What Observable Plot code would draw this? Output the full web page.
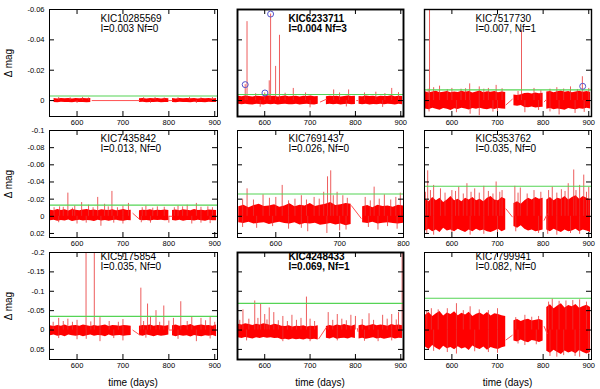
<!DOCTYPE html>
<html><head><meta charset="utf-8">
<script src="https://cdn.jsdelivr.net/npm/d3@7"></script>
<script src="https://cdn.jsdelivr.net/npm/@observablehq/plot@0.6"></script>
<style>
body{margin:0;background:#fff;}
#fig{position:relative;width:600px;height:389px;font-family:"Liberation Sans",Arial,sans-serif;overflow:hidden;background:#fff;}
.p{position:absolute;}
.lab{position:absolute;font-size:10px;color:#000;white-space:nowrap;line-height:1;}
</style></head><body><div id="fig"></div>
<script>
// ---------- data (magnitudes in mmag; negative = brighter, plotted upward) ----------
const names  = ["KIC10285569","KIC6233711","KIC7517730","KIC7435842","KIC7691437","KIC5353762","KIC5175854","KIC4248433","KIC7799941"];
const infos  = ["I=0.003 Nf=0","I=0.004 Nf=3","I=0.007, Nf=1","I=0.013, Nf=0","I=0.026, Nf=0","I=0.035, Nf=0","I=0.035, Nf=0","I=0.069, Nf=1","I=0.082, Nf=0"];
const Ivals  = [0.003,0.004,0.007,0.013,0.026,0.035,0.035,0.069,0.082];
const nfVals = [0,3,1,0,0,0,0,1,0];
const xTicks = [600,700,800,900];
const xTicksShort = [600,700,800];
const yTicksRow = [[-0.06,-0.04,-0.02,0],[-0.1,-0.08,-0.06,-0.04,-0.02,0,0.02],[-0.2,-0.15,-0.1,-0.05,0,0.05]];
const yDomainRow = [[0.0105,-0.06],[0.0247,-0.1],[0.076,-0.2]];

// envelope sampling times (days)
const gridT = [542,550,558,566,574,582,590,598,606,614,622,630,638,646,654,662,670,678,686,694,702,710,718,
               727,
               736,744,752,760,768,776,784,792,800,
               804,
               808,816,824,832,840,848,856,864,872,880,888,896,904];
const N = null;
// panel 1
const p1Top = [N,-1.3,-1.1,-1.4,-1.2,-1.3,-1.1,-1.4,-1.2,-1.3,-1.2,-1.4,N,N,N,N,N,N,N,N,N,N,N, N,
  -1.2,-1.4,-1.1,-1.3,-1.2,-1.4,-1.1,-1.3,-1.2, N, -1.3,-1.1,-1.4,-1.2,-1.3,-1.2,-1.4,-1.1,-1.3,-1.2,-1.4,-1.1,-1.3];
const p1Bot = [N,1.2,1.4,1.1,1.3,1.2,1.4,1.1,1.3,1.2,1.4,1.2,N,N,N,N,N,N,N,N,N,N,N, N,
  1.3,1.1,1.4,1.2,1.3,1.1,1.4,1.2,1.3, N, 1.2,1.4,1.1,1.3,1.2,1.4,1.1,1.3,1.2,1.4,1.1,1.3,1.2];
const p1Spikes = [[560,-2.0],[585,-1.8],[612,-2.1],[625,-1.7],[745,-1.9],[770,-2.0],[790,-1.7],[820,-1.9],[845,-2.1],[870,-1.8],[895,-2.0],[600,1.9],[760,1.8],[860,1.9]];
const p1Links = [[632,0,737,0],[798,0,808,0]];
const p1Flares = [];
// panel 2
const p2Top = [-2.8,-2.5,-3.0,-2.6,-2.4,-2.9,-2.7,-2.5,-3.1,-2.6,-2.8,-2.4,-2.7,-3.0,-2.5,-2.6,-2.9,-2.4,-2.8,-2.6,-3.0,-2.5,-2.7, N,
  -2.5,-2.9,-2.6,-2.8,-2.4,-2.7,-3.0,-2.6,-2.8, N, -2.7,-2.5,-3.0,-2.6,-2.8,-2.4,-2.9,-2.6,-2.7,-3.1,-2.5,-2.8,-2.6];
const p2Bot = [2.5,2.8,2.4,2.7,3.0,2.5,2.6,2.9,2.4,2.8,2.5,3.0,2.6,2.4,2.8,2.7,2.5,2.9,2.6,2.4,2.7,2.9,2.5, N,
  2.7,2.4,2.8,2.5,2.9,2.6,2.4,2.8,2.6, N, 2.5,2.8,2.4,2.9,2.6,2.7,2.5,2.8,2.4,2.6,2.9,2.5,2.7];
const p2Spikes = [[557,-10.5],[561,-52],[610,-13],[613,-57],[624,-22.5],[632.6,-43],[600,-5],[580,-4.5],[645,-4.8],[663,-8],[690,-5],[752,-7],[765,-5],[785,-7],[820,-5],[845,-5.5],[865,-4.6],[880,-8],[895,-5.2],[590,4.4],[700,4.8],[780,4.2],[860,4.5]];
const p2Links = [[722,1,737,-1],[802,0,806,0]];
const p2Flares = [[557,-10.5],[613,-57],[600.5,-5]];
// panel 3
const p3Top = [-5.8,-5.0,-5.6,-6.2,-5.2,-5.5,-6.0,-5.1,-5.7,-5.3,-6.1,-5.4,-5.9,-5.0,-5.6,-6.3,-5.2,-5.8,-5.5,-6.0,-5.1,-5.7,-5.3, N,
  -3.6,-3.3,-3.8,-4.6,-4.9,-4.4,-5.0,-4.5,-4.8, N, -5.6,-6.0,-5.2,-5.8,-6.3,-5.4,-5.9,-5.1,-5.7,-6.2,-5.5,-6.0,-5.3];
const p3Bot = [5.5,6.0,5.1,5.7,6.3,5.2,5.8,6.5,5.4,5.9,5.0,5.6,6.2,5.3,5.8,5.1,5.7,6.0,5.4,5.9,5.2,5.6,5.8, N,
  3.4,3.7,3.3,4.5,4.8,4.3,4.9,4.6,4.4, N, 5.8,5.3,6.1,5.5,5.9,6.4,5.2,5.7,6.0,5.4,5.8,5.1,5.6];
const p3Spikes = [[551,-75],[560,-8.5],[573,-9.5],[600,-8],[620,-7.5],[639,-11],[660,-9],[680,-8],[697,-10],[752.6,-46],[780,-8],[830,-8.5],[860,-9],[886,-15.7],[900,-8],[640,9],[660,10],[700,8.5],[760,8],[835,9.5],[870,8.5],
  [548,-7.5],[590,-7.2],[630,-7.8],[670,-7.5],[710,-7.8],[745,-6],[795,-6.5],[815,-7.5],[845,-7.6],[875,-7.3],[550,7.5],[610,8],[690,7.6],[790,6.5],[815,7.5],[890,7.8]];
const p3Links = [[718,3,733,-1],[802,1,808,-1]];
const p3Flares = [[886.7,-9.4]];
// panel 4
const p4Top = [-7.2,-6.5,-7.8,-6.8,-7.5,-6.3,-7.9,-7.0,-6.6,-7.4,-8.0,-6.9,-7.3,-6.4,-7.7,-7.1,-6.7,-7.6,-6.5,-7.2,-7.9,-6.8,-7.0, N,
  -6.6,-7.2,-6.9,-7.5,-6.4,-7.1,-6.8,-7.4,-6.7, N, -6.8,-7.3,-6.5,-7.6,-7.0,-6.6,-7.8,-6.9,-7.2,-6.5,-7.4,-7.0,-6.7];
const p4Bot = [5.2,4.6,5.8,4.9,5.5,4.4,6.0,5.1,4.7,5.6,4.8,5.3,6.1,4.5,5.4,4.9,5.7,5.0,4.6,5.5,5.9,4.8,5.2, N,
  4.5,5.1,4.8,5.4,4.6,5.0,4.7,5.3,4.9, N, 4.9,5.4,4.6,5.7,5.0,4.8,5.5,4.7,5.2,5.9,4.6,5.1,5.3];
const p4Spikes = [[562,-11],[580,-27],[595,-12],[610,-16],[625,-13],[645,-22],[660,-14],[676,-29],[700,-12],[712,-15],[750,-12],[775,-11],[820,-12],[840,-13],[860,-15],[885,-11],[600,9],[652,11.6],[700,9],[760,8],[850,9],[890,8.5],
  [550,-10],[570,-10.5],[590,-9.5],[635,-10],[668,-11],[688,-10],[742,-10],[765,-9.5],[790,-10.5],[812,-10],[830,-11],[870,-10.5],[895,-10],[560,7.5],[620,8],[680,8],[740,7.5],[800,8],[870,8]];
const p4Links = [[721,-3.7,737,3.9],[800,0,808,0]];
const p4Flares = [];
// panel 5
const p5Top = [-11,-13,-10,-12.5,-14,-11.5,-12,-13.5,-10.5,-12,-14.5,-11,-13,-12,-15,-11.5,-13,-14,-16,-12.5,-13.5,-15,-14, N,
  -11,-12.5,-10,-13,-11.5,-12,-10.5,-13,-12, N, N,N,N,N,N,N,N,N,N,N,N,N,N];
const p5Bot = [7.5,8.5,7,9,8,7.5,9.5,8,7,8.5,9,7.5,10,8.5,9,8,10.5,9.5,8.5,10,9,11,9.5, N,
  7.5,8.5,7,9,8,7.5,8.5,9,8, N, N,N,N,N,N,N,N,N,N,N,N,N,N];
const p5Spikes = [[555,-32],[580,-25],[600,-22],[610,-36],[630,-20],[640,-24],[660,-22],[675,-28],[681,-46],[686,-53],[696,-28],[705,-24],[740,-22],[754,-34],[770,-25],[795,-27],[570,14],[620,15],[650,18],[680,20],[700,17],[760,16],[790,15],
  [548,-20],[565,-19],[590,-21],[620,-18],[648,-19],[668,-20],[690,-24],[712,-21],[748,-18],[762,-20],[780,-19],[788,-22],[548,13],[595,12],[640,14],[710,16],[745,13],[775,12]];
const p5Links = [[718,-12.8,734,2.7]];
const p5Flares = [];
// panel 6
const p6Top = [-20,-17,-22,-18,-21,-16,-19,-23,-18,-20,-17,-21,-19,-22,-18,-20,-17,-21,-23,-19,-18,-22,-20, N,
  -15,-17,-14,-18,-21,-19,-22,-20,-21, N, -19,-22,-18,-21,-20,-23,-19,-22,-24,-20,-23,-21,-19];
const p6Bot = [17,15,18,16,19,14,17,16,18,15,17,19,16,18,15,17,16,18,19,17,15,18,16, N,
  12,14,11,15,17,16,18,17,16, N, 16,18,15,17,19,16,18,17,15,18,16,17,19];
const p6Spikes = [[547,-53],[560,-36],[575,-32],[600,-30],[615,-34],[633,-38],[650,-32],[670,-35],[697,-40],[710,-30],[738,-35],[750,-33],[780,-30],[820,-34],[840,-31],[855,-38],[867,-54],[880,-36],[889,-48],[900,-34],[560,22],[640,22],[700,21],[790,20],[830,22],[880,21],
  [542,-28],[553,-30],[585,-27],[608,-29],[625,-26],[642,-28],[660,-27],[680,-29],[690,-26],[705,-28],[745,-27],[765,-26],[795,-28],[812,-30],[830,-27],[848,-29],[872,-30],[895,-28],[545,20],[600,19],[670,21],[740,18],[810,21],[860,20]];
const p6Links = [[718,-9,733,1],[802,5,809,-3]];
const p6Flares = [];
// panel 7
const p7Top = [-11,-9,-12,-10,-13,-9,-11,-12,-10,-13,-11,-9,-12,-10,-11,-13,-9,-12,-11,-10,-12,-11,-10, N,
  -10,-12,-11,-13,-10,-12,-11,-10,-12, N, -11,-13,-10,-12,-11,-14,-10,-12,-13,-11,-12,-10,-13];
const p7Bot = [15,13,16,14,17,13,15,16,14,17,15,13,16,14,15,17,13,16,15,14,16,15,14, N,
  14,16,13,15,17,14,16,15,13, N, 15,17,14,16,15,18,14,16,17,15,16,14,17];
const p7Spikes = [[560,-30],[580,-28],[600,-25],[619.6,-250],[637.6,-250],[650,-32],[700,-27],[739,-108],[753.6,-67],[760,-35],[772,-50],[789,-62],[810,-30],[826,-73],[850,-33],[870,-30],[890,-35],[600,25],[650,30],[700,28],[860,30],
  [548,-20],[570,-22],[590,-20],[630,-21],[670,-22],[690,-20],[745,-22],[780,-20],[800,-23],[840,-22],[880,-24],[900,-20],[560,22],[620,24],[680,22],[750,21],[820,24],[890,23]];
const p7Links = [[721,0,737,13],[800,0,808,0]];
const p7Flares = [];
// panel 8
const p8Top = [-15,-13,-16,-14,-12,-15,-13,-16,-14,-12,-15,-13,-10,-9,-11,-8,-10,-9,-11,-8,-10,-9,-11, N,
  -9,-12,-10,-13,-11,-14,-12,-10,-13, N, -11,-13,-10,-12,-14,-11,-13,-12,-10,-14,-12,-13,-11];
const p8Bot = [20,22,19,21,23,20,22,19,21,20,22,21,25,24,26,23,25,24,26,23,25,24,26, N,
  21,23,20,24,22,21,23,20,22, N, 23,21,24,22,20,23,21,24,22,20,23,21,22];
const p8Spikes = [[552,-52],[578,-75],[591,-67],[600,-40],[610,-57],[620,-45],[640,-35],[660,-38],[680,-30],[692,-85],[700,-28],[740,-45],[760,-40],[790,-38],[800,-35],[830,-42],[860,-38],[880,-40],[895,-45],[903,-250],[700,30],[850,30],
  [545,-25],[565,-28],[585,-30],[605,-26],[630,-24],[650,-22],[670,-25],[710,-22],[750,-25],[770,-28],[780,-24],[815,-27],[840,-25],[870,-28],[890,-26],[560,28],[640,30],[760,28],[820,29],[880,28]];
const p8Links = [[719,23,736,-7],[804,-5,806,5]];
const p8Flares = [];
// panel 9
const p9Top = [-38,-45,-35,-42,-48,-36,-44,-40,-47,-37,-43,-39,-46,-35,-41,-44,-38,-45,-36,-42,-40,-37,-35, N,
  -24,-27,-22,-26,-28,-23,-25,-27,-24, N, -58,-65,-55,-62,-68,-57,-63,-60,-66,-56,-61,-64,-58];
const p9Bot = [44,50,40,47,52,42,48,45,51,43,49,46,53,41,47,50,44,52,45,48,50,46,43, N,
  28,31,26,30,33,27,29,32,28, N, 55,60,52,58,63,54,59,56,61,53,58,62,57];
const p9Spikes = [[555,-55],[610,-68],[640,-60],[700,-55],[760,-38],[790,-35],[820,-80],[850,-75],[880,-78],[610,62],[700,60],[760,40],[830,70],[880,70],
  [545,-50],[570,-52],[590,-55],[625,-50],[660,-52],[680,-50],[740,-32],[775,-33],[812,-72],[835,-74],[865,-76],[895,-72],[560,55],[590,58],[650,56],[680,58],[745,36],[785,38],[815,68],[845,66],[870,68],[900,66]];
const p9Links = [[718,26,733,13],[802,-10,809,10]];
const p9Flares = [];

const tops   = [p1Top,p2Top,p3Top,p4Top,p5Top,p6Top,p7Top,p8Top,p9Top];
const bots   = [p1Bot,p2Bot,p3Bot,p4Bot,p5Bot,p6Bot,p7Bot,p8Bot,p9Bot];
const spikes = [p1Spikes,p2Spikes,p3Spikes,p4Spikes,p5Spikes,p6Spikes,p7Spikes,p8Spikes,p9Spikes];
const links  = [p1Links,p2Links,p3Links,p4Links,p5Links,p6Links,p7Links,p8Links,p9Links];
const flares = [p1Flares,p2Flares,p3Flares,p4Flares,p5Flares,p6Flares,p7Flares,p8Flares,p9Flares];

// ---------- layout ----------
const colLeft = [49,237,424], colRight = [217,403,591];
const rowTop = [9,130,252], rowBottom = [116,237,359];
const titleDy = [9.5,8.5,4];
const fig = document.getElementById("fig");
const FONT = "'Liberation Sans', Arial, sans-serif";

for (let k = 0; k < 9; k++) {
  const r = Math.floor(k / 3), c = k % 3;
  const ml = c === 0 ? 46 : 6, mr = 8, mt = 6, mb = 16;
  const fw = colRight[c] - colLeft[c], fh = rowBottom[r] - rowTop[r];
  const xd = k === 4 ? [540, 800] : [540, 906];
  const xt = k === 4 ? xTicksShort : xTicks;
  const yt = yTicksRow[r];
  const band = gridT.map((t, i) => ({
    t,
    top: tops[k][i] == null ? NaN : tops[k][i] / 1000,
    bot: bots[k][i] == null ? NaN : bots[k][i] / 1000
  }));
  const bold = nfVals[k] > 0 && k !== 2;
  const frameW = nfVals[k] > 0 ? (k === 2 ? 1.4 : 1.9) : 1;
  const marks = [
    Plot.areaY(band, {x: "t", y1: "top", y2: "bot", fill: "#ff0000", clip: true}),
    Plot.link(links[k], {x1: d => d[0], y1: d => d[1] / 1000, x2: d => d[2], y2: d => d[3] / 1000, stroke: "#ff5050", strokeWidth: 1, clip: true}),
    Plot.ruleX(spikes[k], {x: d => d[0], y1: 0, y2: d => d[1] / 1000, stroke: "#e83333", strokeWidth: 0.8, clip: true}),
    Plot.ruleY([-Ivals[k]], {stroke: "#55d455", strokeWidth: 1.2}),
    Plot.dot(flares[k], {x: d => d[0], y: d => d[1] / 1000, r: 3, stroke: "#5555cc", fill: "none", strokeWidth: 1}),
    Plot.tickX(xt, {x: d => d, insetTop: fh - 5, stroke: "#000"}),
    Plot.tickX(xt, {x: d => d, insetBottom: fh - 5, stroke: "#000"}),
    Plot.tickY(yt, {y: d => d, insetRight: fw - 5, stroke: "#000"}),
    Plot.tickY(yt, {y: d => d, insetLeft: fw - 5, stroke: "#000"}),
    Plot.axisX(xt, {tickSize: 0, tickPadding: 3, tickFormat: d => String(d), fontSize: 7.5, label: null}),
    Plot.text([names[k]], {frameAnchor: "top-left", dx: 51, dy: titleDy[r], textAnchor: "start", lineAnchor: "middle", fontSize: 10, fontWeight: bold ? "bold" : "normal", fill: "#000"}),
    Plot.text([infos[k]], {frameAnchor: "top-left", dx: 51, dy: titleDy[r] + 10, textAnchor: "start", lineAnchor: "middle", fontSize: 10, fontWeight: bold ? "bold" : "normal", fill: "#000"}),
    Plot.frame({stroke: "#000", strokeWidth: frameW})
  ];
  if (c === 0) marks.push(Plot.axisY(yt, {tickSize: 0, tickPadding: 5, tickFormat: d => String(d), fontSize: 7.5, label: null}));
  const svg = Plot.plot({
    width: fw + ml + mr, height: fh + mt + mb,
    marginLeft: ml, marginRight: mr, marginTop: mt, marginBottom: mb,
    x: {domain: xd, axis: null},
    y: {domain: yDomainRow[r], axis: null},
    style: {fontFamily: FONT, fontSize: "7.5px", background: "transparent", color: "#000", overflow: "visible"},
    marks
  });
  svg.classList.add("p");
  svg.style.left = (colLeft[c] - ml) + "px";
  svg.style.top = (rowTop[r] - mt) + "px";
  fig.appendChild(svg);
}

// axis titles
for (let c = 0; c < 3; c++) {
  const d = document.createElement("div");
  d.className = "lab";
  d.textContent = "time (days)";
  d.style.left = ((colLeft[c] + colRight[c]) / 2) + "px";
  d.style.top = "383px";
  d.style.transform = "translate(-50%,-50%)";
  fig.appendChild(d);
}
for (let r = 0; r < 3; r++) {
  const d = document.createElement("div");
  d.className = "lab";
  d.textContent = "Δ mag";
  d.style.left = "9px";
  d.style.top = ((rowTop[r] + rowBottom[r]) / 2) + "px";
  d.style.transform = "translate(-50%,-50%) rotate(-90deg)";
  fig.appendChild(d);
}
</script></body></html>
